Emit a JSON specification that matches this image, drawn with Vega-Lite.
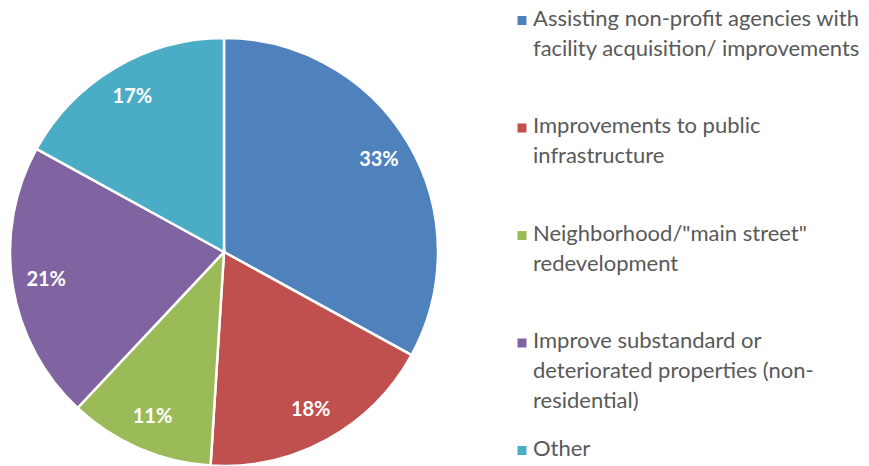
{
  "$schema": "https://vega.github.io/schema/vega-lite/v6.json",
  "width": 428,
  "height": 428,
  "autosize": {"type": "none"},
  "padding": {"left": 10, "top": 38, "right": 431, "bottom": 0},
  "background": "white",
  "data": {
    "values": [
      {"idx": 1, "category": "Assisting non-profit agencies with facility acquisition/ improvements", "share": 0.33},
      {"idx": 2, "category": "Improvements to public infrastructure", "share": 0.18},
      {"idx": 3, "category": "Neighborhood/\"main street\" redevelopment", "share": 0.11},
      {"idx": 4, "category": "Improve substandard or deteriorated properties (non-residential)", "share": 0.21},
      {"idx": 5, "category": "Other", "share": 0.17}
    ]
  },
  "encoding": {
    "theta": {"field": "share", "type": "quantitative", "stack": true},
    "order": {"field": "idx", "type": "quantitative"}
  },
  "layer": [
    {
      "mark": {"type": "arc", "stroke": "white", "strokeWidth": 2.5, "outerRadius": 214},
      "encoding": {
        "color": {
          "field": "category",
          "type": "nominal",
          "scale": {
            "domain": [
              "Assisting non-profit agencies with facility acquisition/ improvements",
              "Improvements to public infrastructure",
              "Neighborhood/\"main street\" redevelopment",
              "Improve substandard or deteriorated properties (non-residential)",
              "Other"
            ],
            "range": ["#4F81BD", "#C0504D", "#9BBB59", "#8064A2", "#4BACC6"]
          },
          "legend": {
            "title": null,
            "orient": "none",
            "legendX": 501,
            "legendY": -28.5,
            "symbolType": "square",
            "symbolSize": 81,
            "symbolStrokeWidth": 0,
            "labelFont": "Lato",
            "labelFontSize": 22,
            "labelColor": "#595959",
            "labelLimit": 0,
            "labelOffset": 0,
            "labelBaseline": "top",
            "gridAlign": "all",
            "rowPadding": 25.5,
            "labelExpr": "datum.label == 'Assisting non-profit agencies with facility acquisition/ improvements' ? ['Assisting non-profit agencies with', 'facility acquisition/ improvements'] : datum.label == 'Improvements to public infrastructure' ? ['Improvements to public', 'infrastructure'] : datum.label == 'Neighborhood/\"main street\" redevelopment' ? ['Neighborhood/\"main street\"', 'redevelopment'] : datum.label == 'Improve substandard or deteriorated properties (non-residential)' ? ['Improve substandard or', 'deteriorated properties (non-', 'residential)'] : datum.label"
          }
        }
      }
    },
    {
      "mark": {"type": "text", "radius": 180, "font": "Lato", "fontWeight": "bold", "fontSize": 20, "fill": "white"},
      "encoding": {
        "text": {"field": "share", "type": "quantitative", "format": ".0%"}
      }
    }
  ],
  "config": {"view": {"stroke": null}, "style": {"guide-label": {"lineHeight": 30, "dy": -12}}}
}
